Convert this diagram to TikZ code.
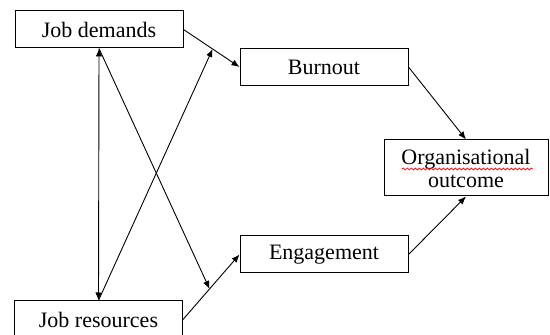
\documentclass[tikz,border=0pt]{standalone}
\usepackage{fontspec}
\setmainfont{Liberation Serif}
\usetikzlibrary{arrows.meta,calc,decorations.pathmorphing}

\tikzset{
  box/.style={draw, line width=0.5pt, inner sep=0pt, minimum width=84pt, minimum height=18.5pt, font=\fontsize{11}{11.5}\selectfont},
  arr/.style={-{Latex[length=4pt,width=3.2pt]}, line width=0.45pt},
  dblarr/.style={{Latex[length=4pt,width=3.2pt]}-{Latex[length=4pt,width=3.2pt]}, line width=0.45pt}
}

\begin{document}
\begin{tikzpicture}[x=0.5pt,y=-0.5pt]

\useasboundingbox (0,0) rectangle (550,335);

\node[box] (jd) at (99,29.5) {Job demands};
\node[box] (jr) at (98.5,319.5) {Job resources};
\node[box] (bo) at (324,67) {Burnout};
\node[box] (en) at (324,254.5) {Engagement};
\node[box, minimum width=82pt, minimum height=28pt, align=center] (oo) at (466,168) {Organisational\\outcome};

\draw[red, line width=0.35pt, decorate, decoration={snake, amplitude=0.5pt, segment length=2pt}] (402,169) -- (533,169);

\draw [arr] (jd.east) -- (bo.west);
\draw [arr] (jr.east) -- (en.west);
\draw [dblarr] (jd.south) -- (jr.north);

\coordinate (up) at ($(jd.east)!0.52!(bo.west)$);
\coordinate (dn) at ($(jr.east)!0.47!(en.west)$);
\draw [arr] (jr.north) -- (up);
\draw [arr] (jd.south) -- (dn);

\draw [arr] (bo.east) -- (oo.north);
\draw [arr] (en.east) -- (oo.south);

\end{tikzpicture}
\end{document}
